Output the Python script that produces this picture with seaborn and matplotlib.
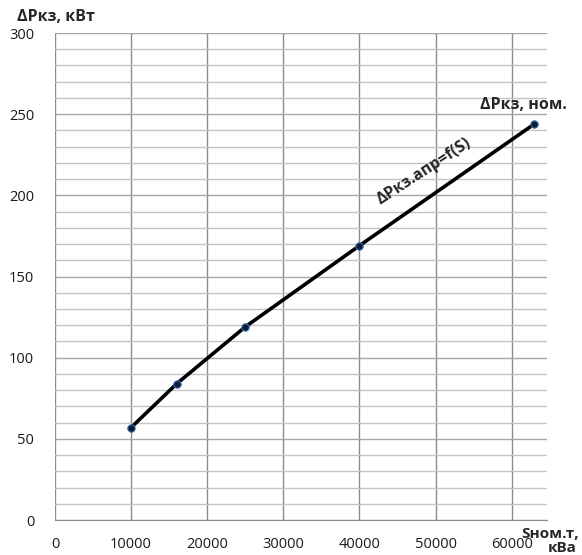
import numpy as np
import pandas as pd
import matplotlib
matplotlib.use("Agg")
import matplotlib.pyplot as plt
from matplotlib.ticker import MultipleLocator
import seaborn as sns

# Данные
s_nom = [10000, 16000, 25000, 40000, 63000]      # кВа
dp_kz = [57, 84, 119, 169, 244]                  # кВт

df = pd.DataFrame({"S": s_nom, "dP": dp_kz})

sns.set_style("white")
plt.rcParams['font.family'] = ['Open Sans', 'DejaVu Sans']

fig = plt.figure(figsize=(5.82, 5.55), dpi=100)
ax = fig.add_axes([0.0945, 0.063, 0.846, 0.8775])

# кривая и точки
sns.lineplot(data=df, x="S", y="dP", ax=ax, color="black", linewidth=2.6, zorder=3)
sns.scatterplot(data=df, x="S", y="dP", ax=ax, color="#0d1b33", edgecolor="#3a6fb0",
                linewidth=0.8, s=28, zorder=4)

ax.set_xlim(0, 64700)
ax.set_ylim(0, 300)
ax.xaxis.set_major_locator(MultipleLocator(10000))
ax.yaxis.set_major_locator(MultipleLocator(50))
ax.yaxis.set_minor_locator(MultipleLocator(10))

ax.grid(True, which="major", axis="x", color="#8c8c8c", linewidth=1.0)
ax.grid(True, which="major", axis="y", color="#a6a6a6", linewidth=1.0)
ax.grid(True, which="minor", axis="y", color="#c4c4c4", linewidth=1.0)
ax.set_axisbelow(True)

for side in ["top", "right", "left"]:
    ax.spines[side].set_visible(False)
ax.spines["bottom"].set_color("#8c8c8c")

ax.tick_params(axis="both", which="major", direction="out", length=5, color="#8c8c8c",
               labelsize=10.5, labelcolor="#1a1a1a")
ax.tick_params(axis="x", pad=7)
ax.tick_params(axis="y", pad=10)
ax.tick_params(which="minor", length=0)

ax.set_xlabel("")
ax.set_ylabel("")

# подписи осей
fig.text(0.03, 0.955, "ΔPкз, кВт", fontsize=11.5, fontweight="bold", ha="left", va="bottom")
fig.text(0.995, 0.038, "Sном.т,", fontsize=11, fontweight="bold", ha="right", va="center")
fig.text(0.99, 0.012, "кВа", fontsize=11, fontweight="bold", ha="right", va="center")

# аннотации
ax.text(s_nom[-1] - 1500, dp_kz[-1] + 7, "ΔPкз, ном.", fontsize=11.5, fontweight="bold",
        ha="center", va="bottom")
ax.text(48500, 215, "ΔPкз.апр=f(S)", fontsize=11.5, fontweight="bold",
        ha="center", va="center", rotation=33)

fig.savefig("out.png", dpi=100)
